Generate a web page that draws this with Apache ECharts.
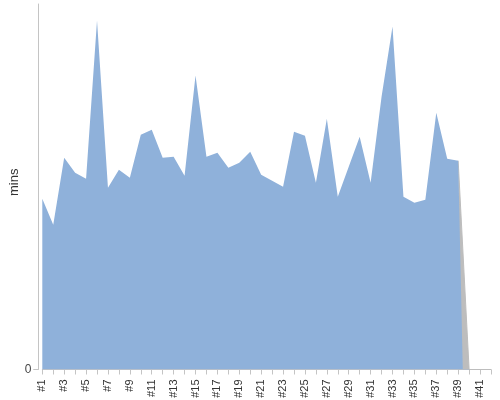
<!DOCTYPE html>
<html>
<head>
<meta charset="utf-8">
<script src="https://cdn.jsdelivr.net/npm/echarts@6/dist/echarts.min.js"></script>
<style>html,body{margin:0;padding:0;background:#fff}#c{width:500px;height:400px}</style>
</head>
<body>
<div id="c"></div>
<script>
var categories = [];
for (var i = 1; i <= 42; i++) categories.push('#' + i);
var mainValues = [34.1, 28.9, 42.3, 39.3, 38.1, 69.7, 36.3, 39.9, 38.3, 46.9,
  47.9, 42.3, 42.5, 38.7, 58.7, 42.5, 43.3, 40.3, 41.3, 43.5,
  38.9, 37.7, 36.5, 47.5, 46.7, 37.3, 50.1, 34.5, 40.5, 46.5,
  37.3, 54.5, 68.5, 34.5, 33.3, 33.9, 51.3, 42.1, 41.7, -57, null, null];
var tailValues = [null, null, null, null, null, null, null, null, null, null,
  null, null, null, null, null, null, null, null, null, null,
  null, null, null, null, null, null, null, null, null, null,
  null, null, null, null, null, null, null, null, 41.7, 0, 0, 0];
var yMax = 73;
var yTicks = [0];

var chart = echarts.init(document.getElementById('c'), null, {renderer: 'canvas'});
chart.setOption({
  animation: false,
  grid: {left: 42.3, right: 9, top: 4, bottom: 30.5, containLabel: false, outerBoundsMode: 'none'},
  xAxis: {
    type: 'category',
    data: categories,
    boundaryGap: false,
    axisLine: {lineStyle: {color: '#c4c4c4', width: 1}},
    axisTick: {alignWithLabel: true, interval: 0, length: 5, lineStyle: {color: '#c4c4c4'}},
    axisLabel: {interval: 1, rotate: 90, margin: 10, fontSize: 11, color: '#333', fontFamily: 'Liberation Sans, Arial, sans-serif'},
    splitLine: {show: false}
  },
  yAxis: {
    type: 'value',
    min: 0,
    max: yMax,
    offset: 4,
    name: 'mins',
    nameLocation: 'middle',
    nameRotate: 90,
    nameGap: 17,
    nameMoveOverlap: false,
    nameTextStyle: {fontSize: 13, color: '#333', padding: [0, 0, 0, 9], fontFamily: 'Liberation Sans, Arial, sans-serif'},
    axisLine: {show: true, lineStyle: {color: '#c4c4c4', width: 1}},
    axisTick: {show: true, length: 5, customValues: yTicks, lineStyle: {color: '#c4c4c4'}},
    axisLabel: {customValues: yTicks, fontSize: 12, color: '#444', margin: 7, fontFamily: 'Liberation Sans, Arial, sans-serif'},
    splitLine: {show: false}
  },
  series: [
    {
      type: 'line',
      data: tailValues,
      symbol: 'none',
      z: 1,
      lineStyle: {width: 1, color: '#bdbdbd'},
      areaStyle: {color: '#bdbdbd', opacity: 1}
    },
    {
      type: 'line',
      data: mainValues,
      symbol: 'none',
      z: 2,
      clip: true,
      lineStyle: {width: 0, color: '#8fb1da'},
      areaStyle: {color: '#8fb1da', opacity: 1}
    }
  ]
});
</script>
</body>
</html>
